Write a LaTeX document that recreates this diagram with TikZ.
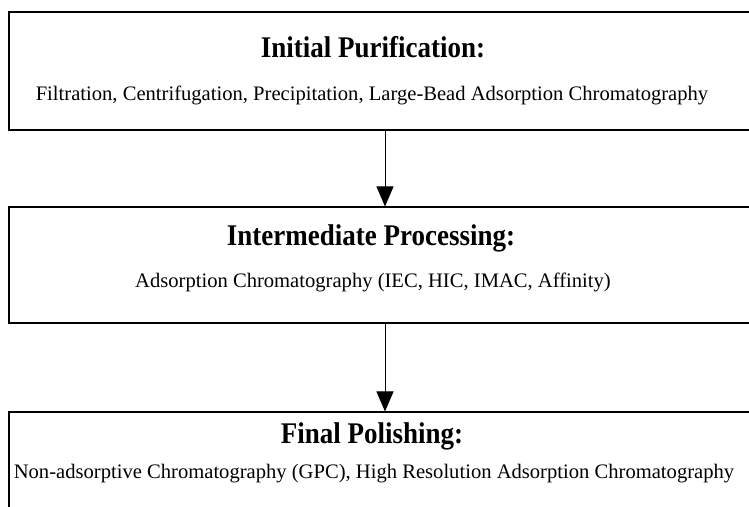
\documentclass[tikz,border=0pt]{standalone}
\usepackage{fontspec}
\setmainfont{Liberation Serif}
\usetikzlibrary{arrows.meta}
\begin{document}
\begin{tikzpicture}[x=1pt,y=-1pt,
  stagebox/.style={draw, line width=1.1pt, rectangle, minimum width=752pt, inner sep=0pt},
  headtext/.style={anchor=base, font=\fontsize{30}{33}\selectfont\bfseries, xscale=0.9, inner sep=0pt},
  bodytext/.style={anchor=base, font=\fontsize{20.6}{24}\selectfont, inner sep=0pt},
  flow/.style={line width=1pt, -{Triangle[length=20pt,width=17pt]}}]
\useasboundingbox (0,0) rectangle (749,506);
\clip (0,0) rectangle (749,506);
% stage boxes (they run past the right and bottom edges)
\node[stagebox, minimum height=118pt] (b1) at (385,71) {};
\node[stagebox, minimum height=116pt] (b2) at (385,265) {};
\node[stagebox, minimum height=118pt] (b3) at (385,471) {};
% titles and descriptions
\node[headtext] (t1) at (373,57) {Initial Purification:};
\node[bodytext] (d1) at (372,100) {Filtration, Centrifugation, Precipitation, Large-Bead Adsorption Chromatography};
\node[headtext] (t2) at (371,245) {Intermediate Processing:};
\node[bodytext] (d2) at (373,287) {Adsorption Chromatography (IEC, HIC, IMAC, Affinity)};
\node[headtext] (t3) at (372,443) {Final Polishing:};
\node[bodytext] (d3) at (374,478) {Non-adsorptive Chromatography (GPC), High Resolution Adsorption Chromatography};
% connectors
\draw[flow] (b1.south) -- (b2.north);
\draw[flow] (b2.south) -- (b3.north);
\end{tikzpicture}
\end{document}
